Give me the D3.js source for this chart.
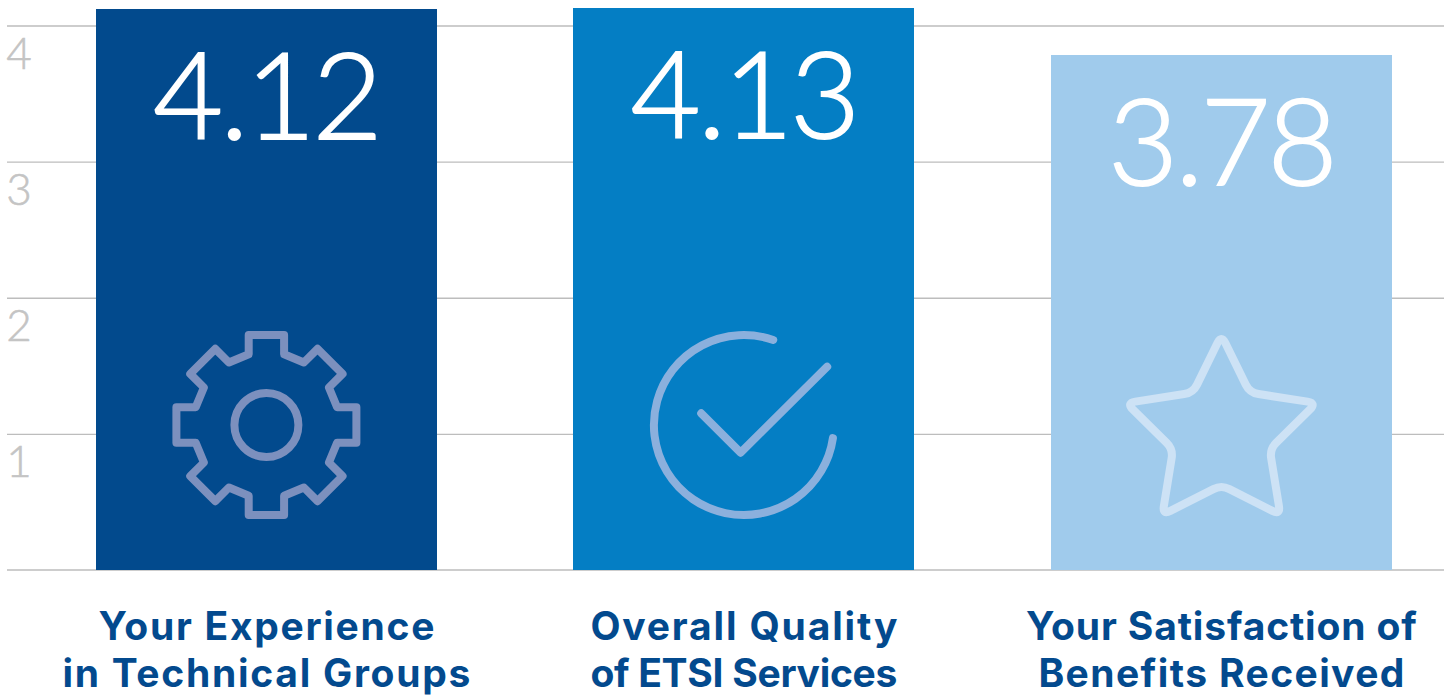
<!DOCTYPE html>
<html>
<head>
<meta charset="utf-8">
<script src="https://cdn.jsdelivr.net/npm/d3@7"></script>
<style>
  html, body { margin: 0; padding: 0; background: #fff; overflow: hidden; }
  svg { display: block; }
</style>
</head>
<body>
<svg id="chart"></svg>
<script>
const categories = ['Your Experience|in Technical Groups', 'Overall Quality|of ETSI Services', 'Your Satisfaction of|Benefits Received'];
const values = [4.12, 4.13, 3.78];
const valueLabels = ['4.12', '4.13', '3.78'];
const barColors = ['#024a8d', '#047ec4', '#a0cbec'];
const iconColors = ['#7c90be', '#8bb0dd', '#cde2f5'];
const yTicks = [1, 2, 3, 4];
// widths of the two label lines under each bar, the substitute font runs differently
const labelWidths = [[336, 408], [307, 307], [391, 366]];

const width = 1454;
const height = 695;
const y0 = 570;

const svg = d3.select('#chart').attr('width', width).attr('height', height);

const x = d3.scaleBand()
  .domain(categories)
  .range([27.65, 1460.15])
  .paddingInner(0.286)
  .paddingOuter(0.143);

const y = d3.scaleLinear()
  .domain([0, 4])
  .range([y0, 25.5]);

// gridlines and tick labels
const axis = svg.append('g')
  .attr('transform', 'translate(7,0)')
  .call(d3.axisRight(y).tickValues(yTicks).tickSize(1437).tickFormat(d3.format('d')));
axis.select('.domain').remove();
axis.selectAll('line').attr('stroke', '#bdbdbd').attr('stroke-width', 1.3);
axis.selectAll('text')
  .attr('x', 12)
  .attr('dy', 43)
  .attr('text-anchor', 'middle')
  .attr('fill', '#c4c4c4')
  .attr('stroke', '#c4c4c4')
  .attr('stroke-width', 0.6)
  .style('font-family', 'Lato')
  .style('font-weight', 300)
  .style('font-size', '44px');

svg.append('line')
  .attr('x1', 7).attr('x2', 1444)
  .attr('y1', y(0)).attr('y2', y(0))
  .attr('stroke', '#bdbdbd').attr('stroke-width', 1.3);

// bars
svg.selectAll('.bar')
  .data(categories)
  .enter().append('rect')
  .attr('class', 'bar')
  .attr('x', d => x(d))
  .attr('y', (d, i) => y(values[i]))
  .attr('width', x.bandwidth())
  .attr('height', (d, i) => y0 - y(values[i]))
  .attr('shape-rendering', 'crispEdges')
  .attr('fill', (d, i) => barColors[i]);

// value labels sit a fixed distance below the bar top
svg.selectAll('.value')
  .data(categories)
  .enter().append('text')
  .attr('class', 'value')
  .attr('x', d => x(d) + x.bandwidth() / 2)
  .attr('y', (d, i) => y(values[i]) + 130)
  .attr('text-anchor', 'middle')
  .attr('fill', '#fff')
  .attr('stroke', '#fff')
  .attr('stroke-width', 1.8)
  .style('font-family', 'Lato')
  .style('font-weight', 300)
  .style('font-size', '121px')
  .style('letter-spacing', '-3px')
  .text((d, i) => valueLabels[i]);

// category labels
const labels = svg.selectAll('.label')
  .data(categories)
  .enter().append('text')
  .attr('class', 'label')
  .attr('text-anchor', 'middle')
  .attr('fill', '#034a8e')
  .style('font-family', 'Inter')
  .style('font-weight', 700)
  .style('font-size', '39px');
labels.selectAll('tspan')
  .data((d, n) => d.split('|').map((t, i) => ({ t, w: labelWidths[n][i], cx: x(d) + x.bandwidth() / 2 })))
  .enter().append('tspan')
  .attr('x', d => d.cx)
  .attr('y', (d, i) => 640 + i * 47)
  .attr('textLength', d => d.w)
  .attr('lengthAdjust', 'spacing')
  .text(d => d.t);

// icons
const iconY = 425;
const line = d3.line();

function rounded(pts, r) {
  // closed outline with softened corners
  let p = '';
  pts.forEach((c, i) => {
    const a = pts[(i + pts.length - 1) % pts.length];
    const b = pts[(i + 1) % pts.length];
    const da = Math.hypot(a[0] - c[0], a[1] - c[1]);
    const db = Math.hypot(b[0] - c[0], b[1] - c[1]);
    const s = [c[0] + (a[0] - c[0]) * r / da, c[1] + (a[1] - c[1]) * r / da];
    const e = [c[0] + (b[0] - c[0]) * r / db, c[1] + (b[1] - c[1]) * r / db];
    p += (i ? 'L' : 'M') + s + 'Q' + c + ' ' + e;
  });
  return p + 'Z';
}

const icon = i => svg.append('g')
  .attr('transform', `translate(${x(categories[i]) + x.bandwidth() / 2},${iconY})`)
  .attr('fill', 'none')
  .attr('stroke', iconColors[i])
  .attr('stroke-width', 8)
  .attr('stroke-linecap', 'round')
  .attr('stroke-linejoin', 'round');

// gear: one tooth rotated eight times
const tooth = [[-17.7, -70.7], [-17.7, -90], [17.7, -90], [17.7, -70.7]];
const gearPts = d3.range(8).flatMap(k => {
  const t = k * Math.PI / 4;
  return tooth.map(([a, b]) => [a * Math.cos(t) - b * Math.sin(t), a * Math.sin(t) + b * Math.cos(t)]);
});
const gear = icon(0);
gear.append('path').attr('d', line(gearPts) + 'Z');
gear.append('circle').attr('r', 32);

// check mark in an open ring
const check = icon(1);
const rr = 90;
const a0 = Math.atan2(29.3, 85);
const a1 = Math.atan2(90, -13.3) - 2 * Math.PI;
check.append('path').attr('d', d3.arc()({ innerRadius: rr, outerRadius: rr, startAngle: a0, endAngle: a1 }));
check.append('path').attr('d', line([[-42.7, -11.7], [-3.3, 27.7], [83.3, -58.3]]));

// star
const star = icon(2);
star.append('path').attr('d', rounded([
  [0, -90], [28.3, -32.3], [95, -22], [48.3, 24.3], [59, 90],
  [0, 60], [-59, 90], [-48.3, 24.3], [-95, -22], [-28.3, -32.3]
], 9));
</script>
</body>
</html>
